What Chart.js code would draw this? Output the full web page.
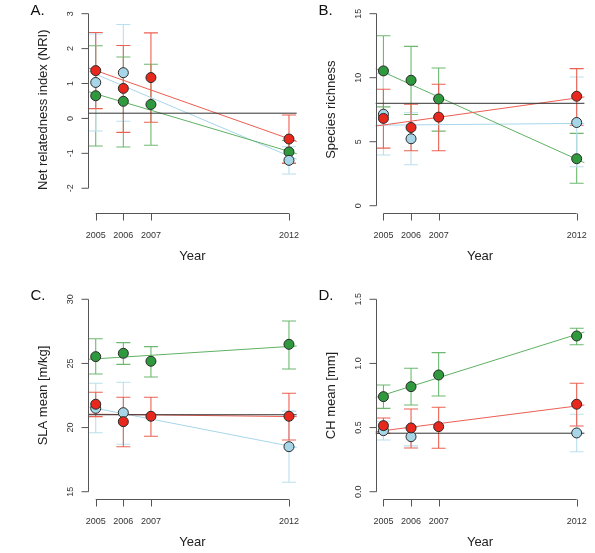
<!DOCTYPE html>
<html>
<head>
<meta charset="utf-8">
<script src="https://cdn.jsdelivr.net/npm/chart.js@4.4.1/dist/chart.umd.min.js"></script>
<style>
  html, body { margin: 0; padding: 0; background: #ffffff; }
  #wrap { position: relative; width: 595px; height: 553px; }
  #wrap canvas { position: absolute; left: 0; top: 0; }
</style>
</head>
<body>
<div id="wrap">
  <canvas id="cA" width="595" height="553"></canvas>
  <canvas id="cB" width="595" height="553"></canvas>
  <canvas id="cC" width="595" height="553"></canvas>
  <canvas id="cD" width="595" height="553"></canvas>
</div>
<script>
// ---------------- data ----------------
const years = [2005, 2006, 2007, 2012];
const yearLabels = ['2005', '2006', '2007', '2012'];
const trendX = [2004.72, 2012.28];

// Panel A: Net relatedness index (NRI)
const nriGreen   = [0.65, 0.49, 0.40, -0.96];
const nriGreenLo = [-0.79, -0.82, -0.77, -1.29];
const nriGreenHi = [2.08, 1.76, 1.55, -0.63];
const nriBlue    = [1.03, 1.31, null, -1.20];
const nriBlueLo  = [-0.36, -0.08, null, -1.59];
const nriBlueHi  = [2.42, 2.69, null, -0.81];
const nriRed     = [1.37, 0.86, 1.17, -0.59];
const nriRedLo   = [0.28, -0.40, -0.11, -1.28];
const nriRedHi   = [2.46, 2.09, 2.45, 0.10];
const nriTrendGreen = [0.77, -1.01];
const nriTrendBlue  = [1.36, -1.17];
const nriTrendRed   = [1.45, -0.66];
const nriRef        = [0.15, 0.15];
const nriTicks      = [-2, -1, 0, 1, 2, 3];
const nriTickLabels = ['-2', '-1', '0', '1', '2', '3'];

// Panel B: Species richness
const richGreen   = [10.53, 9.80, 8.34, 3.67];
const richGreenLo = [7.72, 7.13, 5.83, 1.75];
const richGreenHi = [13.28, 12.45, 10.76, 5.65];
const richBlue    = [7.15, 5.23, null, 6.50];
const richBlueLo  = [3.96, 3.20, null, 3.04];
const richBlueHi  = [10.34, 7.26, null, 10.06];
const richRed     = [6.82, 6.11, 6.92, 8.55];
const richRedLo   = [4.50, 4.29, 4.29, 6.29];
const richRedHi   = [9.10, 7.93, 9.49, 10.71];
const richTrendGreen = [10.71, 3.36];
const richTrendBlue  = [6.29, 6.43];
const richTrendRed   = [6.22, 8.50];
const richRef        = [8.0, 8.0];
const richTicks      = [0, 5, 10, 15];
const richTickLabels = ['0', '5', '10', '15'];

// Panel C: SLA mean
const slaGreen   = [25.53, 25.79, 25.17, 26.49];
const slaGreenLo = [24.18, 24.93, 23.94, 24.57];
const slaGreenHi = [26.93, 26.62, 26.31, 28.31];
const slaBlue    = [21.50, 21.16, null, 18.51];
const slaBlueLo  = [19.60, 18.70, null, 15.74];
const slaBlueHi  = [23.45, 23.53, null, 21.28];
const slaRed     = [21.82, 20.46, 20.88, 20.88];
const slaRedLo   = [20.85, 18.51, 19.32, 19.03];
const slaRedHi   = [22.75, 22.36, 22.36, 22.67];
const slaTrendGreen = [25.32, 26.36];
const slaTrendBlue  = [21.62, 18.45];
const slaTrendRed   = [21.05, 20.85];
const slaRef        = [21.0, 21.0];
const slaTicks      = [15, 20, 25, 30];
const slaTickLabels = ['15', '20', '25', '30'];

// Panel D: CH mean
const chGreen   = [0.741, 0.819, 0.910, 1.214];
const chGreenLo = [0.650, 0.676, 0.746, 1.146];
const chGreenHi = [0.832, 0.962, 1.084, 1.274];
const chBlue    = [0.476, 0.429, null, 0.458];
const chBlueLo  = [0.403, 0.357, null, 0.312];
const chBlueHi  = [0.549, 0.501, null, 0.604];
const chRed     = [0.515, 0.497, 0.507, 0.682];
const chRedLo   = [0.455, 0.341, 0.339, 0.512];
const chRedHi   = [0.575, 0.645, 0.658, 0.845];
const chTrendGreen = [0.735, 1.245];
const chTrendRed   = [0.468, 0.676];
const chRef        = [0.456, 0.456];
const chTicks      = [0, 0.5, 1.0, 1.5];
const chTickLabels = ['0.0', '0.5', '1.0', '1.5'];

// ---------------- styles ----------------
const COL = {
  red: '#E8281C', green: '#2F9A3D', blue: '#A8D6E9',
  errRed: '#EC6152', errGreen: '#6CB96F', errBlue: '#BADFEE',
  lnRed: '#EC5E52', lnGreen: '#5FB163', lnBlue: '#A6D6EA',
  ref: '#333333', axis: '#555555', text: '#333333', pointBorder: '#2a2a2a'
};
const FONT = '"Liberation Sans", Arial, Helvetica, sans-serif';

Chart.defaults.font.family = FONT;

const rStyle = {
  id: 'rStyle',
  beforeDatasetsDraw(chart, args, o) {
    const ctx = chart.ctx, xs = chart.scales.x, ys = chart.scales.y;
    o.errors.forEach(e => {
      ctx.save();
      ctx.strokeStyle = e.color;
      ctx.lineWidth = 1.1;
      e.mean.forEach((m, i) => {
        if (m === null) return;
        const px = xs.getPixelForValue(years[i]);
        const a = ys.getPixelForValue(e.lo[i]);
        const b = ys.getPixelForValue(e.hi[i]);
        ctx.beginPath();
        ctx.moveTo(px, a); ctx.lineTo(px, b);
        ctx.moveTo(px - 7, a); ctx.lineTo(px + 7, a);
        ctx.moveTo(px - 7, b); ctx.lineTo(px + 7, b);
        ctx.stroke();
      });
      ctx.restore();
    });
  },
  afterDraw(chart, args, o) {
    const ctx = chart.ctx, xs = chart.scales.x, ys = chart.scales.y, ca = chart.chartArea;
    ctx.save();
    ctx.strokeStyle = COL.axis;
    ctx.lineWidth = 1;
    // y axis
    const ax = Math.round(ca.left) + 0.5;
    const yTop = ys.getPixelForValue(o.yTicks[o.yTicks.length - 1]);
    const yBot = ys.getPixelForValue(o.yTicks[0]);
    ctx.beginPath();
    ctx.moveTo(ax, yTop); ctx.lineTo(ax, yBot);
    o.yTicks.forEach(t => {
      const py = ys.getPixelForValue(t);
      ctx.moveTo(ax - 7, py); ctx.lineTo(ax, py);
    });
    ctx.stroke();
    ctx.fillStyle = COL.text;
    ctx.font = '9px ' + FONT;
    ctx.textAlign = 'center';
    ctx.textBaseline = 'middle';
    o.yTicks.forEach((t, i) => {
      const py = ys.getPixelForValue(t);
      ctx.save();
      ctx.translate(ax - 18, py);
      ctx.rotate(-Math.PI / 2);
      ctx.fillText(o.yTickLabels[i], 0, 0);
      ctx.restore();
    });
    // x axis
    const ay = Math.round(ca.bottom) + 0.5;
    const x0 = xs.getPixelForValue(years[0]);
    const x1 = xs.getPixelForValue(years[years.length - 1]);
    ctx.beginPath();
    ctx.moveTo(x0, ay); ctx.lineTo(x1, ay);
    years.forEach(yr => {
      const px = Math.round(xs.getPixelForValue(yr)) + 0.5;
      ctx.moveTo(px, ay); ctx.lineTo(px, ay + 7);
    });
    ctx.stroke();
    years.forEach((yr, i) => {
      ctx.fillText(yearLabels[i], xs.getPixelForValue(yr), ay + 22);
    });
    // titles
    ctx.font = '13px ' + FONT;
    ctx.fillStyle = '#222222';
    ctx.fillText('Year', (ca.left + ca.right) / 2, ay + 43);
    ctx.save();
    ctx.translate(ax - 45, (ca.top + ca.bottom) / 2);
    ctx.rotate(-Math.PI / 2);
    ctx.fillText(o.yTitle, 0, 0);
    ctx.restore();
    // panel letter
    ctx.font = '15px ' + FONT;
    ctx.textAlign = 'left';
    ctx.textBaseline = 'alphabetic';
    ctx.fillStyle = '#111111';
    ctx.fillText(o.letter, ax - 58, ca.top + 8.5);
    ctx.restore();
  }
};

function pts(vals) {
  return years.map((yr, i) => ({ x: yr, y: vals[i] }));
}
function seg(vals) {
  return trendX.map((xv, i) => ({ x: xv, y: vals[i] }));
}
function lineDs(vals, color, order) {
  return { type: 'line', data: seg(vals), borderColor: color, borderWidth: 1,
           pointRadius: 0, fill: false, order: order, clip: false };
}
function pointDs(vals, color, order) {
  return { type: 'scatter', data: pts(vals), backgroundColor: color,
           borderColor: COL.pointBorder, borderWidth: 1, pointRadius: 5,
           order: order, clip: false };
}

function makePanel(id, area, yRange, s) {
  const datasets = [];
  datasets.push(pointDs(s.red, COL.red, 0));
  datasets.push(pointDs(s.blue, COL.blue, 1));
  datasets.push(pointDs(s.green, COL.green, 2));
  datasets.push(lineDs(s.ref, COL.ref, 3));
  if (s.trendRed) datasets.push(lineDs(s.trendRed, COL.lnRed, 4));
  if (s.trendGreen) datasets.push(lineDs(s.trendGreen, COL.lnGreen, 5));
  if (s.trendBlue) datasets.push(lineDs(s.trendBlue, COL.lnBlue, 6));

  new Chart(document.getElementById(id), {
    type: 'scatter',
    data: { datasets },
    plugins: [rStyle],
    options: {
      responsive: false,
      animation: false,
      devicePixelRatio: 1,
      layout: { padding: { left: area.left, top: area.top,
                           right: 595 - area.right, bottom: 553 - area.bottom } },
      scales: {
        x: { type: 'linear', min: trendX[0], max: trendX[1], display: false },
        y: { type: 'linear', min: yRange[0], max: yRange[1], display: false }
      },
      plugins: {
        legend: { display: false },
        tooltip: { enabled: false },
        rStyle: {
          letter: s.letter, yTitle: s.yTitle, yTicks: s.yTicks, yTickLabels: s.yTickLabels,
          errors: [
            { mean: s.green, lo: s.greenLo, hi: s.greenHi, color: COL.errGreen },
            { mean: s.blue, lo: s.blueLo, hi: s.blueHi, color: COL.errBlue },
            { mean: s.red, lo: s.redLo, hi: s.redHi, color: COL.errRed }
          ]
        }
      }
    }
  });
}

const topRow = { top: 5.6, bottom: 213.4 };
const botRow = { top: 291.6, bottom: 499.4 };
const leftCol = { left: 88, right: 296.7 };
const rightCol = { left: 375.7, right: 584.4 };

makePanel('cA', { ...leftCol, ...topRow }, [-2.72, 3.22], {
  letter: 'A.', yTitle: 'Net relatedness index (NRI)', yTicks: nriTicks, yTickLabels: nriTickLabels,
  green: nriGreen, greenLo: nriGreenLo, greenHi: nriGreenHi,
  blue: nriBlue, blueLo: nriBlueLo, blueHi: nriBlueHi,
  red: nriRed, redLo: nriRedLo, redHi: nriRedHi,
  trendGreen: nriTrendGreen, trendBlue: nriTrendBlue, trendRed: nriTrendRed, ref: nriRef
});
makePanel('cB', { ...rightCol, ...topRow }, [-0.6, 15.6], {
  letter: 'B.', yTitle: 'Species richness', yTicks: richTicks, yTickLabels: richTickLabels,
  green: richGreen, greenLo: richGreenLo, greenHi: richGreenHi,
  blue: richBlue, blueLo: richBlueLo, blueHi: richBlueHi,
  red: richRed, redLo: richRedLo, redHi: richRedHi,
  trendGreen: richTrendGreen, trendBlue: richTrendBlue, trendRed: richTrendRed, ref: richRef
});
makePanel('cC', { ...leftCol, ...botRow }, [14.4, 30.6], {
  letter: 'C.', yTitle: 'SLA mean [m/kg]', yTicks: slaTicks, yTickLabels: slaTickLabels,
  green: slaGreen, greenLo: slaGreenLo, greenHi: slaGreenHi,
  blue: slaBlue, blueLo: slaBlueLo, blueHi: slaBlueHi,
  red: slaRed, redLo: slaRedLo, redHi: slaRedHi,
  trendGreen: slaTrendGreen, trendBlue: slaTrendBlue, trendRed: slaTrendRed, ref: slaRef
});
makePanel('cD', { ...rightCol, ...botRow }, [-0.06, 1.56], {
  letter: 'D.', yTitle: 'CH mean [mm]', yTicks: chTicks, yTickLabels: chTickLabels,
  green: chGreen, greenLo: chGreenLo, greenHi: chGreenHi,
  blue: chBlue, blueLo: chBlueLo, blueHi: chBlueHi,
  red: chRed, redLo: chRedLo, redHi: chRedHi,
  trendGreen: chTrendGreen, trendRed: chTrendRed, ref: chRef
});
</script>
</body>
</html>
